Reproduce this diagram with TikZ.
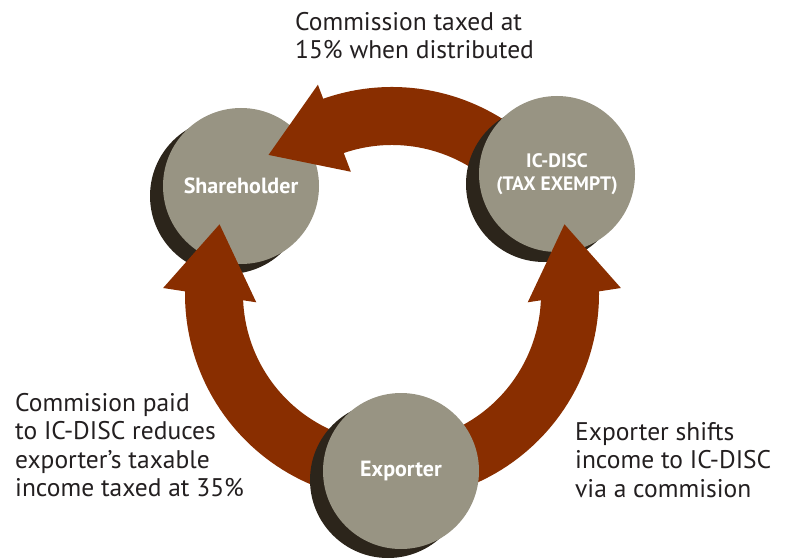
\documentclass[tikz,border=0pt]{standalone}
\usepackage{fontspec}
\setmainfont{PT Sans}
\definecolor{rust}{RGB}{137,46,0}
\definecolor{stone}{RGB}{152,148,131}
\definecolor{umber}{RGB}{44,37,27}
\definecolor{ink}{RGB}{35,31,32}

\begin{document}
\begin{tikzpicture}[x=1pt,y=1pt,
    party/.style={circle, fill=stone, minimum size=156pt, inner sep=0pt, text=white, align=center, font=\fontsize{22}{23}\selectfont\bfseries},
    shadow/.style={circle, fill=umber, minimum size=156pt, inner sep=0pt},
    band/.style={rust, line width=58pt},
    head/.style={fill=rust},
    note/.style={text=ink, align=left, inner sep=0pt, font=\fontsize{25.5}{28.5}\selectfont}]
    \useasboundingbox (0,0) rectangle (787,558);
    \coordinate (hub) at (392,264);
    % bands of the cycle
    \draw [band] ([shift={(hub)}]270:178) arc [start angle=270, end angle=179, radius=178];
    \draw [band] ([shift={(hub)}]270:178) arc [start angle=270, end angle=361, radius=178];
    \draw [band] ([shift={(hub)}]36:178) arc [start angle=36, end angle=110, radius=178];
    % the three parties
    \node [shadow] (share shadow) at (228,362) {};
    \node [party] (share) at (241,372) {Shareholder};
    \node [shadow] (disc shadow) at (544,374) {};
    \node [party, font=\fontsize{19.5}{23}\selectfont\bfseries] (disc) at (557,384) {IC-DISC\\(TAX EXEMPT)};
    \node [shadow] (exporter shadow) at (388,78) {};
    \node [party] (exporter) at (401,87) {Exporter};
    % arrow heads
    \fill [head] ([shift={(hub)}]178.5:229) -- ([shift={(hub)}]183.5:136) -- ([shift={(hub)}]158:186) -- cycle;
    \fill [head] ([shift={(hub)}]1.5:229) -- ([shift={(hub)}]-3.5:136) -- ([shift={(hub)}]22:186) -- cycle;
    \fill [head] ([shift={(hub)}]109.5:222) -- ([shift={(hub)}]108.6:129) -- ([shift={(hub)}]131.6:186) -- cycle;
    % notes
    \node [note, anchor=base west] (top note) at (295,499) {Commission taxed at\\15\% when distributed};
    \node [note, anchor=base west] (left note) at (15,61.3) {Commision paid\\to IC-DISC reduces\\exporter’s taxable\\income taxed at 35\%};
    \node [note, anchor=base west] (right note) at (575,61) {Exporter shifts\\income to IC-DISC\\via a commision};
\end{tikzpicture}
\end{document}
